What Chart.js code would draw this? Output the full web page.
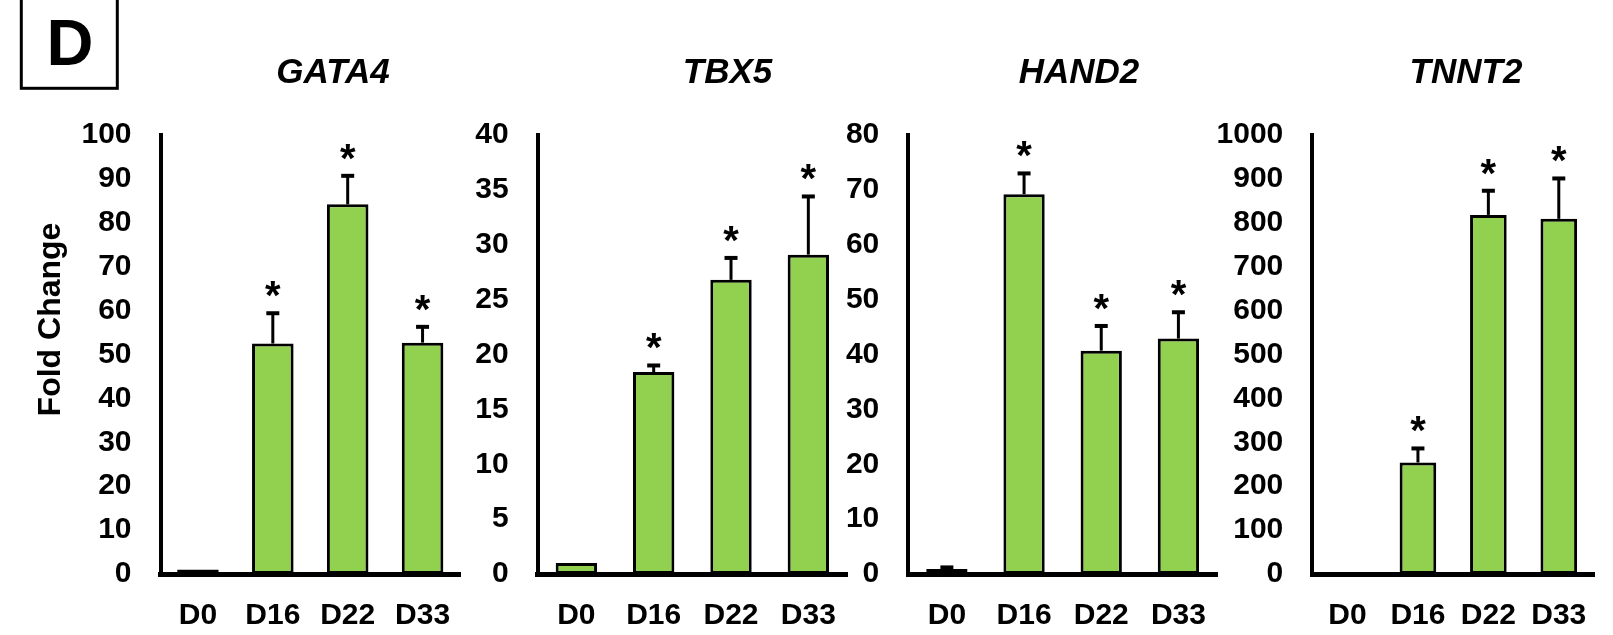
<!DOCTYPE html>
<html>
<head>
<meta charset="utf-8">
<title>Cardiac marker expression</title>
<script src="https://cdn.jsdelivr.net/npm/chart.js@4.4.1/dist/chart.umd.min.js"></script>
<style>
  html, body { margin: 0; padding: 0; background: #fff; }
  #figure { position: relative; width: 1613px; height: 635px; overflow: hidden; background: #fff; }
  #figure canvas { position: absolute; top: 0; }
</style>
</head>
<body>
<div id="figure">
  <canvas id="gata4"></canvas>
  <canvas id="tbx5"></canvas>
  <canvas id="hand2"></canvas>
  <canvas id="tnnt2"></canvas>
</div>
<script>
// Differentiation days (categories)
const days = ['D0', 'D16', 'D22', 'D33'];

// Fold change (mean) and error (upper bar) per gene
const gata4Mean = [1.0, 52.5, 84.2, 52.7];
const gata4Err  = [0.0, 6.9, 6.5, 3.6];
const gata4Sig  = [false, true, true, true];

const tbx5Mean = [1.0, 18.4, 26.8, 29.1];
const tbx5Err  = [0.0, 0.6, 2.0, 5.3];
const tbx5Sig  = [false, true, true, true];

const hand2Mean = [0.9, 69.2, 40.7, 42.9];
const hand2Err  = [0.3, 3.8, 4.5, 4.8];
const hand2Sig  = [false, true, true, true];

const tnnt2Mean = [1, 254, 818, 809];
const tnnt2Err  = [0, 32, 55, 92];
const tnnt2Sig  = [false, true, true, true];

// Y axis ranges (max and tick step)
const yAxisMax  = [100, 40, 80, 1000];
const yAxisStep = [10, 5, 10, 100];

const FONT = "'Liberation Sans', Arial, Helvetica, sans-serif";
const GREEN = '#92D050';

// Upward error bars and significance stars above each bar
const errorBarsPlugin = {
  id: 'errorBars',
  afterDatasetsDraw(chart) {
    const ctx = chart.ctx;
    const yScale = chart.scales.y;
    const ds = chart.data.datasets[0];
    const meta = chart.getDatasetMeta(0);
    ctx.save();
    ctx.strokeStyle = '#000';
    ctx.fillStyle = '#000';
    meta.data.forEach((bar, i) => {
      const v = ds.data[i];
      const e = ds.errUp[i];
      const yTop = yScale.getPixelForValue(v);
      const yErr = yScale.getPixelForValue(v + e);
      if (e > 0) {
        ctx.lineWidth = 3;
        ctx.beginPath();
        ctx.moveTo(bar.x, yTop);
        ctx.lineTo(bar.x, yErr);
        ctx.stroke();
        ctx.lineWidth = 4;
        ctx.beginPath();
        ctx.moveTo(bar.x - 6.5, yErr);
        ctx.lineTo(bar.x + 6.5, yErr);
        ctx.stroke();
      }
      if (ds.signif[i]) {
        ctx.font = 'bold 40px ' + FONT;
        ctx.textAlign = 'center';
        ctx.textBaseline = 'alphabetic';
        ctx.fillText('*', bar.x, yErr - 4);
      }
    });
    ctx.restore();
  }
};

// Gene titles, shared y-axis caption and panel letter
const panelTextPlugin = {
  id: 'panelText',
  afterDraw(chart, args, o) {
    const ctx = chart.ctx;
    ctx.save();
    ctx.fillStyle = '#000';
    ctx.strokeStyle = '#000';
    ctx.textAlign = 'center';
    ctx.textBaseline = 'alphabetic';
    ctx.font = 'italic bold 35px ' + FONT;
    ctx.fillText(o.title, o.titleX, 83);
    if (o.yTitle) {
      ctx.save();
      ctx.font = 'bold 32px ' + FONT;
      ctx.translate(o.yTitleX, o.yTitleY);
      ctx.rotate(-Math.PI / 2);
      ctx.fillText(o.yTitle, 0, 0);
      ctx.restore();
    }
    if (o.letter) {
      ctx.lineWidth = 3;
      ctx.strokeRect(21.3, -10, 96, 98.3);
      ctx.font = 'bold 65px ' + FONT;
      ctx.fillText(o.letter, 70, 65);
    }
    ctx.restore();
  }
};

const panels = [
  { id: 'gata4', name: 'GATA4', mean: gata4Mean, err: gata4Err, sig: gata4Sig, max: yAxisMax[0], step: yAxisStep[0],
    canvasLeft: 0, canvasWidth: 470, plotLeft: 160.5, padRight: 10, barPct: 0.555, titleX: 333,
    yTitle: 'Fold Change', letter: 'D' },
  { id: 'tbx5', name: 'TBX5', mean: tbx5Mean, err: tbx5Err, sig: tbx5Sig, max: yAxisMax[1], step: yAxisStep[1],
    canvasLeft: 460, canvasWidth: 397, plotLeft: 537.7, padRight: 10, barPct: 0.535, titleX: 727.5 },
  { id: 'hand2', name: 'HAND2', mean: hand2Mean, err: hand2Err, sig: hand2Sig, max: yAxisMax[2], step: yAxisStep[2],
    canvasLeft: 830, canvasWidth: 397, plotLeft: 908.3, padRight: 10, barPct: 0.535, titleX: 1079 },
  { id: 'tnnt2', name: 'TNNT2', mean: tnnt2Mean, err: tnnt2Err, sig: tnnt2Sig, max: yAxisMax[3], step: yAxisStep[3],
    canvasLeft: 1200, canvasWidth: 413, plotLeft: 1312.3, padRight: 19, barPct: 0.52, titleX: 1466 }
];

Chart.defaults.font.family = FONT;
Chart.defaults.color = '#000';

panels.forEach(p => {
  const cv = document.getElementById(p.id);
  cv.width = p.canvasWidth;
  cv.height = 635;
  cv.style.left = p.canvasLeft + 'px';
  cv.style.width = p.canvasWidth + 'px';
  cv.style.height = '635px';

  new Chart(cv, {
    type: 'bar',
    data: {
      labels: days,
      datasets: [{
        data: p.mean,
        errUp: p.err,
        signif: p.sig,
        backgroundColor: GREEN,
        borderColor: '#000',
        borderWidth: 3,
        borderSkipped: false,
        barPercentage: p.barPct,
        categoryPercentage: 1
      }]
    },
    options: {
      responsive: false,
      animation: false,
      devicePixelRatio: 1,
      events: [],
      layout: { padding: { top: 135, right: p.padRight, bottom: 0, left: 0 } },
      plugins: {
        legend: { display: false },
        tooltip: { enabled: false },
        title: { display: false },
        panelText: {
          title: p.name,
          titleX: p.titleX - p.canvasLeft,
          yTitle: p.yTitle || '',
          yTitleX: 60,
          yTitleY: 319.5,
          letter: p.letter || ''
        }
      },
      scales: {
        x: {
          grid: { display: false },
          border: { display: true, color: '#000', width: 5 },
          ticks: { color: '#000', padding: 16, autoSkip: false, maxRotation: 0,
                   font: { size: 30, weight: 'bold' } },
          afterFit(s) { s.height = 61; }
        },
        y: {
          min: 0,
          max: p.max,
          grid: { display: false },
          border: { display: true, color: '#000', width: 4 },
          ticks: { stepSize: p.step, color: '#000', padding: 21, autoSkip: false,
                   font: { size: 30, weight: 'bold' },
                   callback: v => String(v) },
          afterFit(s) { s.width = p.plotLeft - p.canvasLeft; }
        }
      }
    },
    plugins: [errorBarsPlugin, panelTextPlugin]
  });
});
</script>
</body>
</html>
